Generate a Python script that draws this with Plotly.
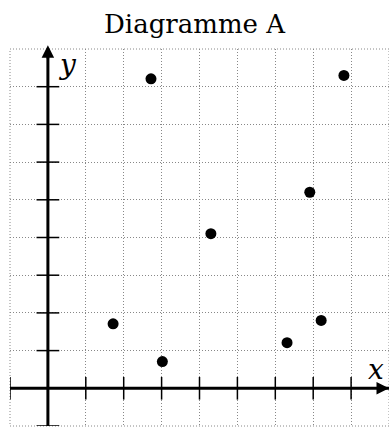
import plotly.graph_objects as go

# points
xs = [2.72, 7.81, 6.91, 4.30, 1.72, 3.02, 6.31, 7.21]
ys = [8.21, 8.30, 5.20, 4.10, 1.71, 0.71, 1.21, 1.80]

x_ticks = [-1, 1, 2, 3, 4, 5, 6, 7, 8]
y_ticks = [-1, 1, 2, 3, 4, 5, 6, 7, 8]
x_range = [-1, 9]
y_range = [-1, 9]

GRID = dict(color='#888', width=1, dash='1px,2px')

fig = go.Figure()
fig.add_trace(go.Scatter(x=xs, y=ys, mode='markers',
                         marker=dict(color='black', size=11), hoverinfo='skip'))

shapes = []
# dotted border of the grid (plotly skips gridlines at the range edges)
shapes.append(dict(type='rect', xref='paper', yref='paper', x0=0, x1=1, y0=0, y1=1,
                   line=GRID, layer='below'))
# main axes
shapes.append(dict(type='line', xref='x', yref='y', x0=x_range[0], x1=x_range[1], y0=0, y1=0,
                   line=dict(color='black', width=3)))
shapes.append(dict(type='line', xref='x', yref='y', x0=0, x1=0, y0=y_range[0], y1=y_range[1],
                   line=dict(color='black', width=3)))
# small tick marks crossing the axes
for t in x_ticks:
    shapes.append(dict(type='line', xref='x', yref='y', x0=t, x1=t, y0=-0.3, y1=0.3,
                       line=dict(color='black', width=1.5)))
for t in y_ticks:
    shapes.append(dict(type='line', xref='x', yref='y', x0=-0.3, x1=0.3, y0=t, y1=t,
                       line=dict(color='black', width=1.5)))

annots = [
    dict(x=x_range[1], y=0, ax=x_range[1] - 0.3, ay=0, xref='x', yref='y', axref='x', ayref='y',
         showarrow=True, arrowhead=2, arrowsize=1, arrowwidth=2.5, arrowcolor='black', text=''),
    dict(x=0, y=y_range[1] + 0.1, ax=0, ay=y_range[1] - 0.3, xref='x', yref='y', axref='x', ayref='y',
         showarrow=True, arrowhead=2, arrowsize=1, arrowwidth=2.5, arrowcolor='black', text=''),
    dict(x=8.65, y=0.5, xref='x', yref='y', text='<i>x</i>', showarrow=False,
         font=dict(family='DejaVu Serif', size=28, color='black')),
    dict(x=0.52, y=8.6, xref='x', yref='y', text='<i>y</i>', showarrow=False,
         font=dict(family='DejaVu Serif', size=28, color='black')),
]

fig.update_layout(
    width=389, height=428,
    margin=dict(l=10, r=0, t=49, b=2, autoexpand=False),
    plot_bgcolor='white', paper_bgcolor='white',
    showlegend=False,
    title=dict(text='Diagramme A', x=0.5, xanchor='center', y=0.965, yanchor='top',
               font=dict(family='DejaVu Serif', size=26, color='black')),
    shapes=shapes, annotations=annots,
)
fig.update_xaxes(range=x_range, dtick=1, tick0=0, showticklabels=False, zeroline=False,
                 showgrid=True, gridcolor=GRID['color'], griddash=GRID['dash'], gridwidth=1, ticks='')
fig.update_yaxes(range=y_range, dtick=1, tick0=0, showticklabels=False, zeroline=False,
                 showgrid=True, gridcolor=GRID['color'], griddash=GRID['dash'], gridwidth=1, ticks='')

# drop the default page margin so the figure sits at the window corner
fig.write_html("out.html", config=dict(displayModeBar=False),
               post_script="document.body.style.margin='0';")
